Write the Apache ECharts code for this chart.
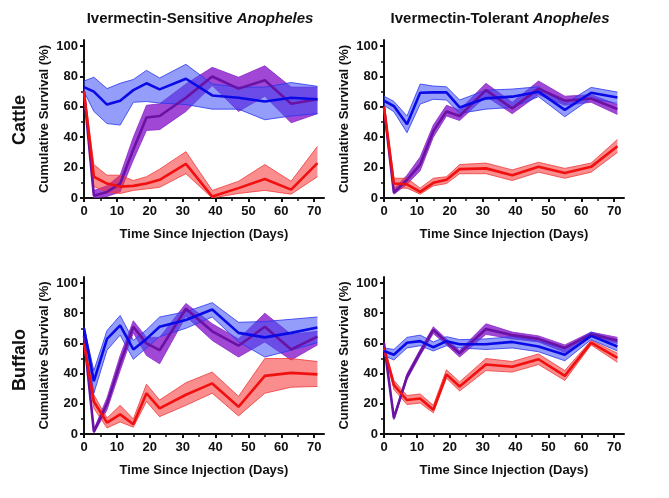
<!DOCTYPE html>
<html>
<head>
<meta charset="utf-8">
<script src="https://cdn.jsdelivr.net/npm/echarts@6/dist/echarts.min.js"></script>
<style>
html,body{margin:0;padding:0;background:#fff;}
#chart{width:669px;height:498px;}
</style>
</head>
<body>
<div id="chart"></div>
<script>
// ---- Data ----
const days = [0, 3, 7, 11, 15, 19, 23, 31, 39, 47, 55, 63, 71];
const xTickLabels = [0, 10, 20, 30, 40, 50, 60, 70];
const yTickLabels = [0, 20, 40, 60, 80, 100];
const columnTitles = ['Ivermectin-Sensitive', 'Ivermectin-Tolerant'];
const titleItalic = 'Anopheles';
const rowLabels = ['Cattle', 'Buffalo'];
const xAxisTitle = 'Time Since Injection (Days)';
const yAxisTitle = 'Cumulative Survival (%)';

// Cattle / Sensitive
const cattleSensBlueMean = [73, 70, 61.5, 64, 71, 75.5, 71.5, 78.5, 67.5, 66, 63.5, 66, 65];
const cattleSensBlueLo   = [70, 57, 49, 48, 63, 63.5, 62.5, 61.5, 58.5, 58.5, 51.5, 54, 55.5];
const cattleSensBlueHi   = [77, 79.5, 72, 75.5, 78, 84, 79, 88, 75, 73, 73, 76, 73.5];
const cattleSensPurpleMean = [70, 1.5, 4, 9.5, 32, 53, 54, 66, 80, 72, 77.5, 62, 65];
const cattleSensPurpleLo   = [70, 0, 1, 4, 25, 44.5, 45, 57, 74, 57, 67, 49.5, 55.5];
const cattleSensPurpleHi   = [70, 5, 8, 15, 40, 61, 62, 75, 86, 79.5, 87, 73, 73];
const cattleSensRedMean = [70, 14, 9.5, 7.5, 8, 9.5, 12, 22.5, 1, 6.5, 12.5, 5.5, 23];
const cattleSensRedLo   = [68, 7.5, 4, 3, 5, 6, 7, 16, 0, 3, 5, 2.5, 14];
const cattleSensRedHi   = [72, 22, 15, 15, 11.5, 14, 19, 30.5, 5, 11, 22, 11, 34];

// Cattle / Tolerant
const cattleTolBlueMean = [64, 60.5, 48.5, 69.3, 69.5, 69.5, 59.6, 65.6, 66.7, 70, 58, 69.3, 66.2];
const cattleTolBlueLo   = [61, 56.8, 43, 61.8, 65, 64.5, 55.7, 58.5, 59.6, 66.7, 53.5, 65.6, 62.3];
const cattleTolBlueHi   = [67, 63.6, 54, 75, 73.7, 73.2, 64.5, 71, 71.7, 73.2, 62, 72.8, 69.7];
const cattleTolPurpleMean = [60, 3.5, 12, 22, 44, 57, 54, 71, 59, 72, 64, 65.5, 58.5];
const cattleTolPurpleLo   = [59, 2.5, 9, 18, 40, 54, 51, 67, 55.5, 68, 61, 63, 55];
const cattleTolPurpleHi   = [61, 6, 15, 27, 48, 61, 58, 75.5, 63, 77, 67, 68, 61.5];
const cattleTolRedMean = [60, 9.5, 9, 4, 10, 12, 19, 19.5, 15, 20.5, 16.5, 20.5, 34];
const cattleTolRedLo   = [59, 6.5, 6.5, 2.5, 8, 9.5, 16, 16, 11.5, 17, 13, 17, 30];
const cattleTolRedHi   = [61, 13, 13, 6.5, 13, 14, 22, 23, 18.5, 23.5, 19.5, 23, 38.5];

// Buffalo / Sensitive
const buffaloSensBlueMean = [70, 35, 63, 72, 56, 63, 71, 75.5, 82.5, 67, 64, 67, 70.5];
const buffaloSensBlueLo   = [69, 27, 55.5, 65.5, 49.5, 57, 64.5, 70, 77.5, 61, 51, 55.5, 60.5];
const buffaloSensBlueHi   = [71, 42, 68.5, 78.5, 62, 69, 77.5, 81, 87, 74, 74.5, 76, 77.5];
const buffaloSensPurpleMean = [65, 1.5, 20, 47, 71, 60, 55.5, 83, 68, 58.5, 71, 56, 64.5];
const buffaloSensPurpleLo   = [64, 0.5, 16, 42, 67, 52, 46.5, 78, 62, 51, 61, 49, 59];
const buffaloSensPurpleHi   = [66, 3, 24, 52, 75, 64, 64, 86.5, 73, 63, 80, 66, 68];
const buffaloSensRedMean = [60, 21.5, 7.5, 13, 6.5, 27, 17, 26, 33.5, 18, 38.5, 40.5, 39.5];
const buffaloSensRedLo   = [58, 17, 4, 8, 4.5, 21.5, 11.5, 19, 27, 12, 27, 31, 31.5];
const buffaloSensRedHi   = [62, 26, 10.5, 19, 10, 33, 22.5, 34, 41, 25, 50, 50, 48];

// Buffalo / Tolerant
const buffaloTolBlueMean = [55, 52.5, 60.5, 61.5, 57.5, 61.5, 59.5, 59.5, 61, 58, 52.5, 65, 58];
const buffaloTolBlueLo   = [52, 49, 57, 58.5, 55, 58.5, 57, 56, 57, 54.5, 48.5, 62.5, 55];
const buffaloTolBlueHi   = [57, 56, 64, 65.5, 61, 64.5, 62.5, 63, 64.5, 61.5, 56.5, 67.5, 61.5];
const buffaloTolPurpleMean = [60, 10.5, 38, 54, 69, 61, 53.5, 69.5, 65.5, 63, 57, 66, 62];
const buffaloTolPurpleLo   = [59, 9.5, 36, 52, 66.5, 59, 51, 66, 63, 61, 54, 64.5, 60];
const buffaloTolPurpleHi   = [61, 11.5, 40, 56, 71, 63, 55.5, 73, 67.5, 65, 59, 67.5, 64];
const buffaloTolRedMean = [57, 32.5, 22.5, 23.5, 16, 39.5, 31.5, 46, 44.5, 49.5, 38.5, 60.5, 50.5];
const buffaloTolRedLo   = [56, 29.5, 19.5, 20.5, 14, 37, 28.5, 42, 41, 46, 35.5, 59, 47.5];
const buffaloTolRedHi   = [58, 35.5, 25.5, 26.5, 19, 42.5, 34.5, 50, 48, 53, 42, 62, 53.5];

// ---- Panels ----
const panels = [
  {purple: [cattleSensPurpleMean, cattleSensPurpleLo, cattleSensPurpleHi],
   red: [cattleSensRedMean, cattleSensRedLo, cattleSensRedHi],
   blue: [cattleSensBlueMean, cattleSensBlueLo, cattleSensBlueHi]},
  {purple: [cattleTolPurpleMean, cattleTolPurpleLo, cattleTolPurpleHi],
   red: [cattleTolRedMean, cattleTolRedLo, cattleTolRedHi],
   blue: [cattleTolBlueMean, cattleTolBlueLo, cattleTolBlueHi]},
  {purple: [buffaloSensPurpleMean, buffaloSensPurpleLo, buffaloSensPurpleHi],
   red: [buffaloSensRedMean, buffaloSensRedLo, buffaloSensRedHi],
   blue: [buffaloSensBlueMean, buffaloSensBlueLo, buffaloSensBlueHi]},
  {purple: [buffaloTolPurpleMean, buffaloTolPurpleLo, buffaloTolPurpleHi],
   red: [buffaloTolRedMean, buffaloTolRedLo, buffaloTolRedHi],
   blue: [buffaloTolBlueMean, buffaloTolBlueLo, buffaloTolBlueHi]}
];

const styles = {
  purple: {line: '#6a12a4', edge: '#8a28c8', fill: 'rgba(140,30,205,0.82)'},
  red:    {line: '#f01010', edge: '#f03a3a', fill: 'rgba(245,50,50,0.55)'},
  blue:   {line: '#0a0ae6', edge: '#2a35ee', fill: 'rgba(65,80,245,0.56)'}
};

const FONT = '"Liberation Sans", Arial, Helvetica, sans-serif';
const gridPos = [
  {left: 84, top: 40, width: 240, height: 158},
  {left: 384, top: 40, width: 240, height: 158},
  {left: 84, top: 277, width: 240, height: 157},
  {left: 384, top: 277, width: 240, height: 157}
];

const xMajor = xTickLabels;
const xMinor = xTickLabels.slice(0, -1).map(v => v + 5);
const yMajor = yTickLabels;
const yMinor = yTickLabels.slice(0, -1).map(v => v + 10);

const grids = [], xAxes = [], yAxes = [], series = [];
const pair = (xs, ys) => xs.map((x, i) => [x, ys[i]]);

function bandRenderer(st, rows) {
  // Draws the whole band once (on the first item), from all rows [day, lo, hi]
  return function (params, api) {
    if (params.dataIndex !== 0) return null;
    const loPts = rows.map(r => api.coord([r[0], r[1]]));
    const hiPts = rows.map(r => api.coord([r[0], r[2]]));
    const poly = loPts.concat(hiPts.slice().reverse());
    return {
      type: 'group',
      children: [
        {type: 'polygon', shape: {points: poly}, style: {fill: st.fill, stroke: null}},
        {type: 'polyline', shape: {points: loPts}, style: {fill: null, stroke: st.edge, lineWidth: 0.8}},
        {type: 'polyline', shape: {points: hiPts}, style: {fill: null, stroke: st.edge, lineWidth: 0.8}}
      ]
    };
  };
}

gridPos.forEach((g, i) => {
  grids.push(Object.assign({containLabel: false}, g));
  const axisLine = {show: true, onZero: false, lineStyle: {color: '#111', width: 2}};
  xAxes.push({
    type: 'value', gridIndex: i, min: 0, max: 73, interval: 10, position: 'bottom',
    axisLine: axisLine,
    axisTick: {show: true, length: 4, lineStyle: {color: '#111', width: 2}, customValues: xMajor},
    axisLabel: {show: true, customValues: xMajor, margin: 7, color: '#111', fontSize: 13, fontWeight: 'bold', fontFamily: FONT},
    splitLine: {show: false},
    name: xAxisTitle, nameLocation: 'middle', nameGap: 30,
    nameTextStyle: {color: '#111', fontSize: 13, fontWeight: 'bold', fontFamily: FONT}
  });
  xAxes.push({
    type: 'value', gridIndex: i, min: 0, max: 73, interval: 10, position: 'bottom', offset: 0,
    axisLine: {show: false},
    axisTick: {show: true, length: 3, lineStyle: {color: '#111', width: 1.5}, customValues: xMinor},
    axisLabel: {show: false}, splitLine: {show: false}
  });
  yAxes.push({
    type: 'value', gridIndex: i, min: 0, max: 104, interval: 20, position: 'left',
    axisLine: axisLine,
    axisTick: {show: true, length: 4, lineStyle: {color: '#111', width: 2}, customValues: yMajor},
    axisLabel: {show: true, customValues: yMajor, margin: 6, color: '#111', fontSize: 13, fontWeight: 'bold', fontFamily: FONT},
    splitLine: {show: false},
    name: yAxisTitle, nameLocation: 'middle', nameGap: 33,
    nameTextStyle: {color: '#111', fontSize: 13, fontWeight: 'bold', fontFamily: FONT}
  });
  yAxes.push({
    type: 'value', gridIndex: i, min: 0, max: 104, interval: 20, position: 'left', offset: 0,
    axisLine: {show: false},
    axisTick: {show: true, length: 3, lineStyle: {color: '#111', width: 1.5}, customValues: yMinor},
    axisLabel: {show: false}, splitLine: {show: false}
  });

  const p = panels[i];
  ['purple', 'red', 'blue'].forEach(key => {
    const [mean, lo, hi] = p[key];
    const st = styles[key];
    const rows = days.map((d, k) => [d, lo[k], hi[k]]);
    series.push({
      type: 'custom', name: key + ' band', xAxisIndex: i * 2, yAxisIndex: i * 2,
      silent: true, animation: false, clip: true,
      encode: {x: 0, y: [1, 2]},
      data: rows,
      renderItem: bandRenderer(st, rows)
    });
    series.push({
      type: 'line', name: key + ' mean', xAxisIndex: i * 2, yAxisIndex: i * 2,
      symbol: 'none', silent: true, smooth: false, animation: false,
      data: pair(days, mean),
      lineStyle: {color: st.line, width: 2.6}
    });
  });
});

const titleX = [200, 500];
const graphic = [];
columnTitles.forEach((t, i) => {
  graphic.push({
    type: 'text', x: titleX[i], y: 19, silent: true,
    style: {
      text: '{a|' + t + ' }{b|' + titleItalic + '}',
      align: 'center', verticalAlign: 'middle',
      rich: {
        a: {fontSize: 15, fontWeight: 'bold', fontFamily: FONT, fill: '#111', color: '#111'},
        b: {fontSize: 15, fontWeight: 'bold', fontStyle: 'italic', fontFamily: FONT, fill: '#111', color: '#111'}
      }
    }
  });
});
const rowY = [120, 360];
rowLabels.forEach((t, i) => {
  graphic.push({
    type: 'text', x: 20, y: rowY[i], rotation: Math.PI / 2, silent: true,
    style: {text: t, align: 'center', verticalAlign: 'middle', fontSize: 18, fontWeight: 'bold', fontFamily: FONT, fill: '#111'}
  });
});

const chart = echarts.init(document.getElementById('chart'), null, {renderer: 'canvas'});
chart.setOption({
  animation: false,
  backgroundColor: '#fff',
  grid: grids, xAxis: xAxes, yAxis: yAxes, series: series, graphic: graphic
});
</script>
</body>
</html>
